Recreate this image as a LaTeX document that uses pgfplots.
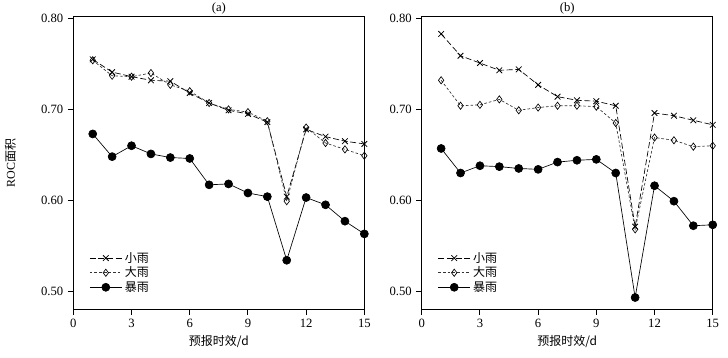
\documentclass[border=0pt]{standalone}
\usepackage{pgfplots}
\pgfplotsset{compat=1.18}
\usepackage{fontspec}
\setmainfont{Liberation Serif}
\newfontfamily\cjk{Noto Sans CJK SC}
\pgfplotsset{
  rocaxis/.style={
    scale only axis, width=218.25pt, height=219.5pt,
    xmin=0, xmax=15, ymin=0.48, ymax=0.802,
    xtick={0,3,6,9,12,15}, ytick={0.5,0.6,0.7,0.8},
    yticklabel style={/pgf/number format/.cd,fixed,fixed zerofill,precision=2},
    /pgf/number format/assume math mode=true,
    tick align=outside, tick pos=left, major tick length=4pt,
    axis line style={line width=0.9pt},
    tick style={line width=0.7pt, black},
    ticklabel style={font=\fontsize{9.5}{11}\selectfont},
    xlabel={\cjk\fontsize{9}{11}\selectfont 预报时效/d},
    xlabel style={yshift=1pt},
    title style={font=\fontsize{9.5}{11}\selectfont, yshift=-8pt},
    legend style={draw=none, fill=none, font=\cjk\fontsize{9}{10.5}\selectfont,
      at={(0.05,0.21)}, anchor=north west, row sep=-2pt, inner sep=1pt},
    legend cell align=left,
    legend image code/.code={\draw[mark repeat=2,mark phase=2,##1] plot coordinates {(0pt,0pt) (12pt,0pt) (24pt,0pt)};},
  },
  xiao/.style={black, line width=0.5pt, dash pattern=on 4.5pt off 2pt, mark=x, mark size=3pt, mark options={solid, line width=0.6pt}},
  da/.style={black!80, line width=0.5pt, dash pattern=on 2pt off 1.5pt, mark=diamond, mark size=2.7pt, mark options={solid, fill=white, draw=black, line width=0.5pt}},
  bao/.style={black, line width=0.5pt, solid, mark=*, mark size=3pt},
}
\begin{document}
\begin{tikzpicture}
\useasboundingbox (0,0) rectangle (546pt,-267.75pt);
\begin{axis}[rocaxis, at={(55pt,-232pt)}, anchor=south west, title={(a)},
  ylabel={\fontsize{9}{11}\selectfont ROC{\cjk 面积}}, ylabel style={yshift=12pt}]
\addplot[xiao] coordinates {(1,0.755)(2,0.741)(3,0.736)(4,0.732)(5,0.731)(6,0.718)(7,0.707)(8,0.699)(9,0.695)(10,0.686)(11,0.604)(12,0.678)(13,0.670)(14,0.665)(15,0.662)};
\addplot[da] coordinates {(1,0.754)(2,0.737)(3,0.736)(4,0.740)(5,0.727)(6,0.720)(7,0.707)(8,0.700)(9,0.697)(10,0.687)(11,0.599)(12,0.680)(13,0.663)(14,0.656)(15,0.649)};
\addplot[bao] coordinates {(1,0.673)(2,0.648)(3,0.660)(4,0.651)(5,0.647)(6,0.646)(7,0.617)(8,0.618)(9,0.608)(10,0.604)(11,0.534)(12,0.603)(13,0.595)(14,0.577)(15,0.563)};
\legend{小雨,大雨,暴雨}
\end{axis}
\begin{axis}[rocaxis, at={(316.3pt,-232pt)}, anchor=south west, title={(b)}]
\addplot[xiao] coordinates {(1,0.783)(2,0.759)(3,0.751)(4,0.743)(5,0.744)(6,0.727)(7,0.714)(8,0.710)(9,0.709)(10,0.704)(11,0.571)(12,0.696)(13,0.693)(14,0.688)(15,0.683)};
\addplot[da] coordinates {(1,0.732)(2,0.704)(3,0.705)(4,0.711)(5,0.699)(6,0.702)(7,0.704)(8,0.704)(9,0.703)(10,0.685)(11,0.568)(12,0.669)(13,0.666)(14,0.659)(15,0.660)};
\addplot[bao] coordinates {(1,0.657)(2,0.630)(3,0.638)(4,0.637)(5,0.635)(6,0.634)(7,0.642)(8,0.644)(9,0.645)(10,0.630)(11,0.493)(12,0.616)(13,0.599)(14,0.572)(15,0.573)};
\legend{小雨,大雨,暴雨}
\end{axis}
\end{tikzpicture}
\end{document}
